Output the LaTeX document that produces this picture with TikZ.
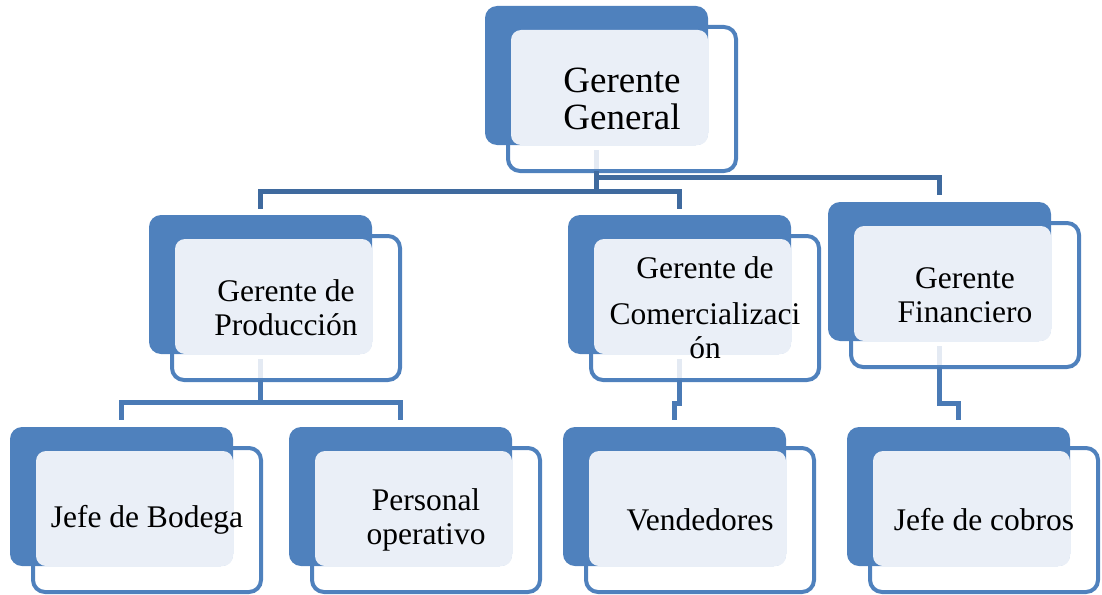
\documentclass[tikz,border=0pt]{standalone}
\usepackage{fontspec}
\setmainfont{Liberation Serif}
\newfontfamily\lserif{Liberation Serif}
\usetikzlibrary{calc}
\definecolor{bluefill}{HTML}{4F81BD}
\definecolor{lightfill}{HTML}{EAEFF7}
\definecolor{conntop}{HTML}{3F6A9E}
\definecolor{connlow}{HTML}{4A7AB5}
\definecolor{ghost}{HTML}{E4EAF3}
\tikzset{
  backbox/.style={rectangle, fill=bluefill, rounded corners=12pt, minimum width=223pt, minimum height=139pt, inner sep=0pt, outer sep=0pt},
  framebox/.style={rectangle, draw=bluefill, line width=4pt, rounded corners=12pt, minimum width=228pt, minimum height=144pt, inner sep=0pt, outer sep=0pt, align=center, text=black},
  midfont/.style={font=\lserif\fontsize{31.5}{33.7}\selectfont},
  topfont/.style={font=\lserif\fontsize{37}{36.6}\selectfont},
  conn/.style={line width=5pt},
  ghostline/.style={ghost, line width=5pt},
}
\newcommand\OrgUnit[5]{%
  \node[backbox, anchor=north west] (#1-b) at (#2,#3) {};
  \fill[lightfill, rounded corners=10pt] ($(#1-b.north west)+(26,24)$) rectangle (#1-b.south east);
  \node[framebox, #5] (#1) at ($(#1-b.center)+(25.5,23.5)$) {#4};
}
\begin{document}
\begin{tikzpicture}[x=1pt, y=-1pt]
\useasboundingbox (0,0) rectangle (1102,594);
\OrgUnit{gg}{485}{6}{Gerente\\General}{topfont}
\OrgUnit{gp}{149}{215}{Gerente de\\Producción}{midfont}
\OrgUnit{gc}{568}{215}{Gerente de\\[12.3pt]Comercializaci\\ón}{midfont}
\OrgUnit{gf}{828}{202}{Gerente\\Financiero}{midfont}
\OrgUnit{jb}{10}{427}{Jefe de Bodega}{midfont}
\OrgUnit{po}{289}{427}{Personal\\operativo}{midfont}
\OrgUnit{ve}{563}{427}{Vendedores}{midfont}
\OrgUnit{co}{847}{427}{Jefe de cobros}{midfont}
% faint parts of the connectors seen inside the frames
\foreach \u in {gg,gp,gc,gf}{
  \draw[ghostline, shorten <=5pt, shorten >=2pt] (\u-b.south) -- (\u-b.south |- \u.south);
}
% connectors from the general manager
\draw[conn, conntop] (gg-b.south |- gg.south) -- ++(0,20) coordinate (j1);
\draw[conn, conntop, shorten >=6pt] (j1) -| (gp-b.north);
\draw[conn, conntop, shorten >=6pt] (j1) -| (gc-b.north);
\draw[conn, conntop, shorten >=7pt] (gg-b.south |- gg.south) -- ++(0,6) -| (gf-b.north);
% lower connectors
\draw[conn, connlow] (gp-b.south |- gp.south) -- ++(0,22) coordinate (j2);
\draw[conn, connlow, shorten >=7pt] (j2) -| (jb-b.north);
\draw[conn, connlow, shorten >=7pt] (j2) -| (po-b.north);
\draw[conn, connlow, shorten >=7pt] (gc-b.south |- gc.south) -- ++(0,23) -| (ve-b.north);
\draw[conn, connlow, shorten >=7pt] (gf-b.south |- gf.south) -- ++(0,36) -| (co-b.north);
\end{tikzpicture}
\end{document}
